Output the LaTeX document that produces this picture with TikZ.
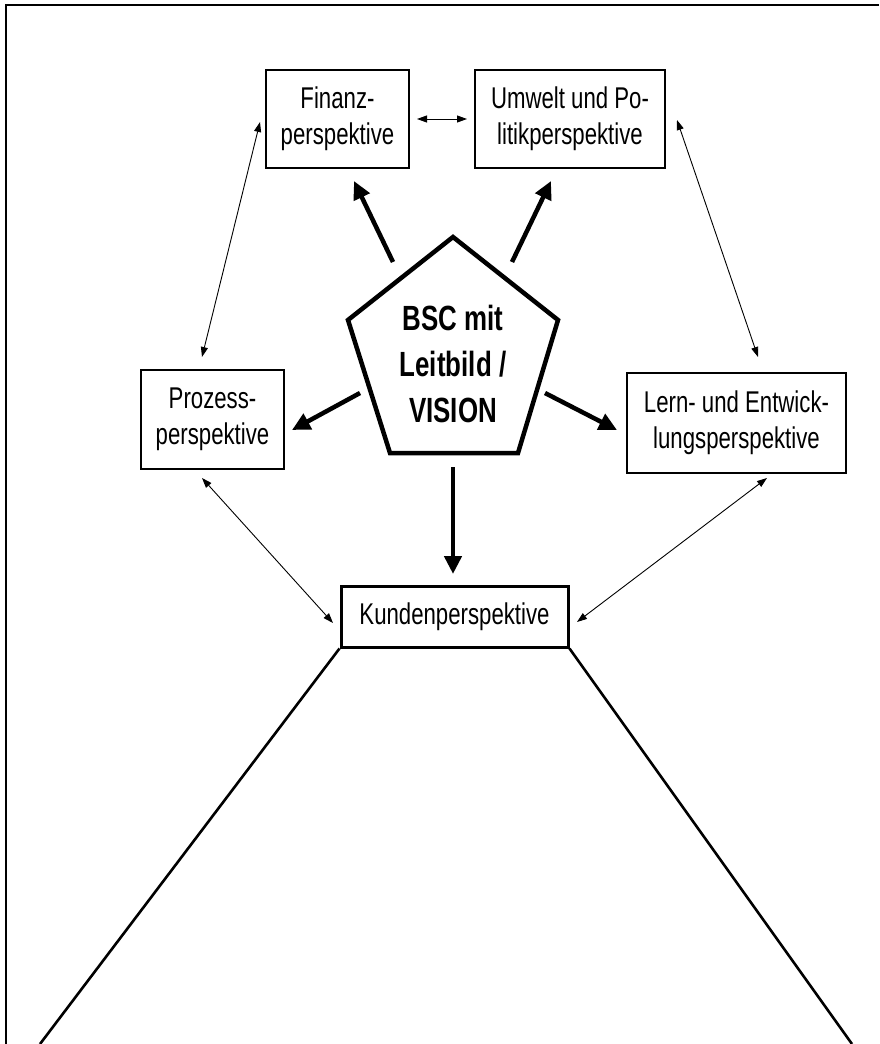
\documentclass[tikz,border=0pt]{standalone}
\usepackage{fontspec}
\setmainfont[FakeStretch=0.74]{Liberation Sans}
\usetikzlibrary{arrows.meta}
\begin{document}
\begin{tikzpicture}[x=1pt,y=-1pt,
  box/.style={draw,line width=1.3pt,inner sep=0pt,align=center,
    font=\fontsize{30}{36}\selectfont},
  thin/.style={line width=0.9pt,{Triangle[length=10pt,width=7pt]}-{Triangle[length=10pt,width=7pt]}},
  thickarrow/.style={line width=4.5pt,-{Triangle[length=18pt,width=17pt]}},
  frame/.style={line width=1.8pt},
  edge/.style={line width=2.6pt}]
\useasboundingbox (0,0) rectangle (879,1044);
% frame
\coordinate (fTL) at (6,5);
\coordinate (fTR) at (879,5);
\coordinate (fBL) at (6,1044);
\draw[frame] (fTR) -- (fTL) -- (fBL);
% boxes
\node[box,minimum width=143pt,minimum height=98pt] (fin) at (337.5,119) {Finanz-\\perspektive};
\node[box,minimum width=190pt,minimum height=98pt] (umw) at (570,119) {Umwelt und Po-\\litikperspektive};
\node[box,minimum width=143pt,minimum height=99pt] (pro) at (212.5,419.5) {Prozess-\\perspektive};
\node[box,minimum width=219pt,minimum height=100pt] (ler) at (736.5,423) {Lern- und Entwick-\\lungsperspektive};
\node[box,line width=3pt,minimum width=227pt,minimum height=61pt] (kun) at (454.5,616.5) {Kundenperspektive};
% pentagon
\coordinate (pA) at (453,237);
\coordinate (pR) at (558,320);
\coordinate (pBR) at (518,453);
\coordinate (pBL) at (390,453);
\coordinate (pL) at (348,320);
\draw[line width=4.5pt,line join=miter] (pA) -- (pR) -- (pBR) -- (pBL) -- (pL) -- cycle;
\node[align=center,font=\bfseries\fontsize{35}{46}\selectfont] (bsc) at (453,364) {BSC mit\\Leitbild /\\VISION};
% thick arrows
\coordinate (s1) at (393,262); \coordinate (t1) at (354,181);
\coordinate (s2) at (512,262); \coordinate (t2) at (551,181);
\coordinate (s3) at (360,393); \coordinate (t3) at (292,430);
\coordinate (s4) at (545,393); \coordinate (t4) at (617,430);
\coordinate (s5) at (453,467); \coordinate (t5) at (453,574);
\draw[thickarrow] (s1) -- (t1);
\draw[thickarrow] (s2) -- (t2);
\draw[thickarrow] (s3) -- (t3);
\draw[thickarrow] (s4) -- (t4);
\draw[thickarrow] (s5) -- (t5);
% thin double arrows
\coordinate (a1) at (417,119); \coordinate (b1) at (467,119);
\coordinate (a2) at (260,122); \coordinate (b2) at (202,357);
\coordinate (a3) at (677,120); \coordinate (b3) at (758,357);
\coordinate (a4) at (202,478); \coordinate (b4) at (333,623);
\coordinate (a5) at (767,478); \coordinate (b5) at (577,622);
\draw[thin] (a1) -- (b1);
\draw[thin] (a2) -- (b2);
\draw[thin] (a3) -- (b3);
\draw[thin] (a4) -- (b4);
\draw[thin] (a5) -- (b5);
% trapezoid legs
\coordinate (legL) at (40,1044);
\coordinate (legR) at (852,1044);
\draw[edge] (kun.south west) -- (legL);
\draw[edge] (kun.south east) -- (legR);
\end{tikzpicture}
\end{document}
